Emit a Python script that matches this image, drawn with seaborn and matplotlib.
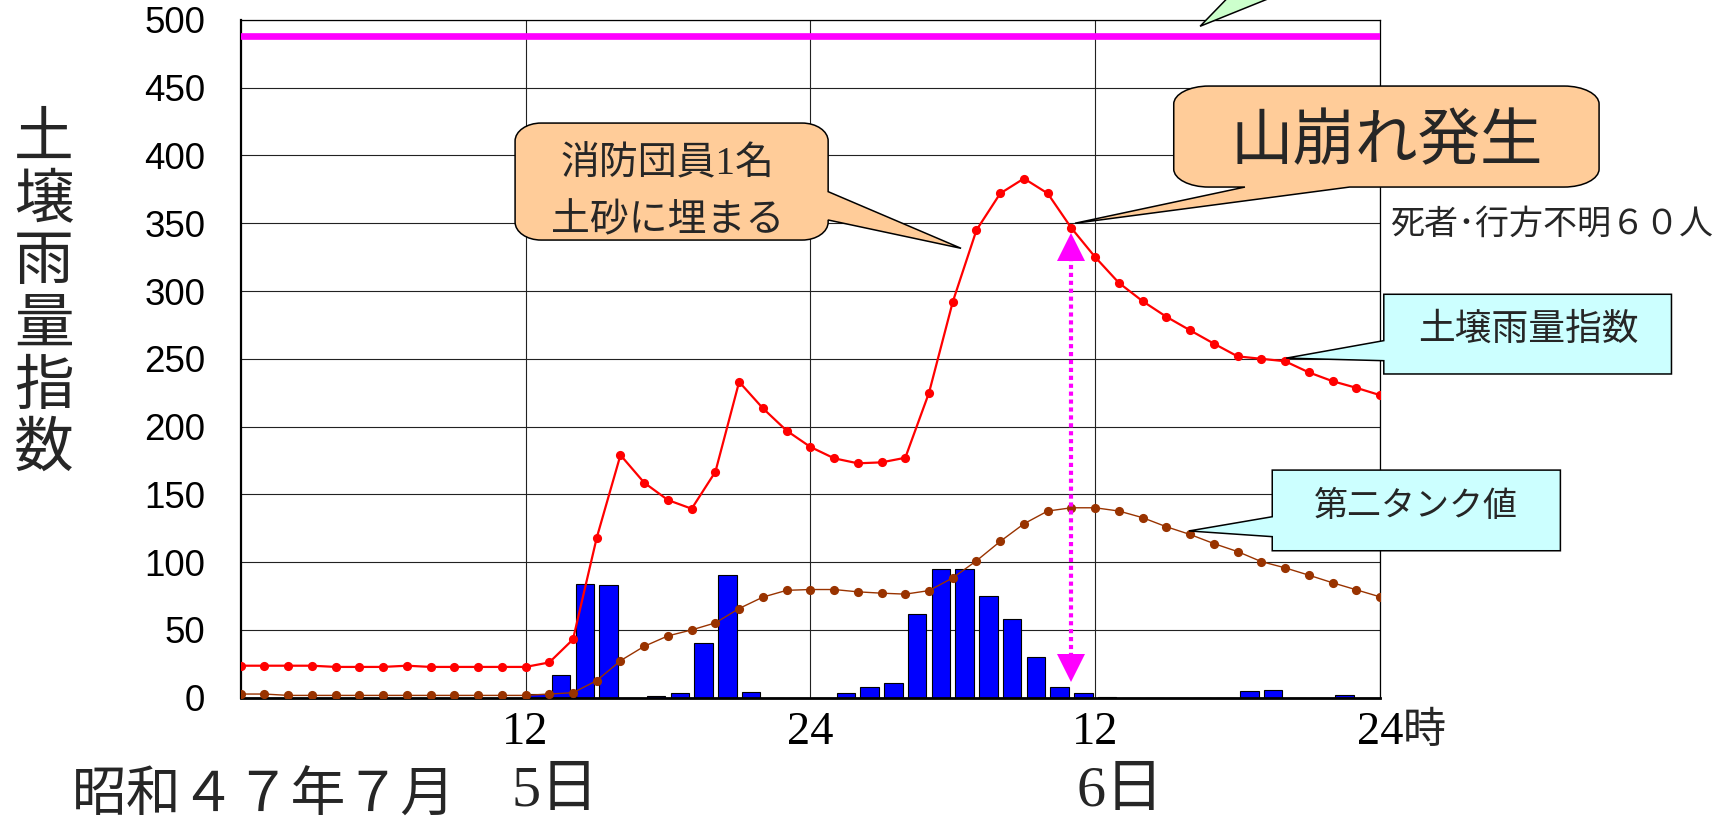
import matplotlib
matplotlib.use("Agg")
import matplotlib.pyplot as plt
from matplotlib.path import Path
from matplotlib.patches import PathPatch, Polygon
from matplotlib.transforms import offset_copy
import seaborn as sns

# ---- data (hours counted from 0:00 on the 5th) ----
hours = list(range(49))
soil_index = [23.6, 23.6, 23.6, 23.6, 22.7, 22.7, 22.7, 23.6, 22.7, 22.7, 22.7, 22.7, 22.7,
              26.0, 43.0, 118.0, 179.0, 158.6, 145.8, 139.4, 166.7, 233.0, 213.5, 197.0,
              185.0, 176.6, 172.9, 173.6, 177.0, 225.0, 292.0, 345.0, 372.0, 383.0, 372.0,
              346.4, 325.0, 306.0, 292.5, 281.0, 271.0, 261.2, 251.8, 250.0, 248.2, 240.0,
              233.5, 228.6, 223.2]
tank2 = [2.7, 2.7, 1.7, 1.7, 1.7, 1.7, 1.7, 1.7, 1.7, 1.7, 1.7, 1.7, 1.7,
         2.7, 3.7, 12.6, 27.3, 37.9, 45.6, 50.0, 55.2, 65.8, 74.2, 79.2,
         79.8, 79.8, 78.1, 77.1, 76.4, 79.0, 88.4, 101.0, 115.3, 128.3, 137.7,
         140.1, 140.1, 137.7, 132.8, 126.1, 120.4, 113.7, 107.8, 100.4, 95.8, 90.4,
         84.8, 79.6, 74.4]
# hourly rainfall, one value per hour interval h..h+1
rain_hours = [h + 0.5 for h in range(48)]
rain = [0, 0, 0, 0, 0, 0, 0, 0, 0, 0, 0, 0,
        2.5, 16.5, 84.0, 83.0, 0, 1.0, 3.5, 40.0, 90.6, 4.3, 0, 0,
        0, 3.2, 7.9, 10.8, 62.0, 95.3, 95.3, 75.0, 58.0, 30.3, 7.9, 3.4,
        0.7, 0, 0, 0, 0, 0, 4.7, 5.5, 0, 0, 1.8, 0]

threshold = 488
slide_hour = 35
xtick_pos = [12, 24, 36, 48]
xtick_labels = ["12", "24", "12", "24"]
ytick_pos = list(range(0, 501, 50))

# ---- figure ----
sns.set_style("white")
plt.rcParams["font.family"] = ["Liberation Sans", "Noto Sans CJK JP"]

W, H, DPI = 1731, 826, 100
fig = plt.figure(figsize=(W / DPI, H / DPI), dpi=DPI)
L, R, T, B = 240.7, 1380.0, 19.9, 697.7
ax = fig.add_axes([L / W, 1 - B / H, (R - L) / W, (B - T) / H])
px_x = (R - L) / 48.0
px_y = (B - T) / 500.0

sns.barplot(x=rain_hours, y=rain, native_scale=True, width=0.78, color="#0000ff",
            saturation=1, edgecolor="black", linewidth=0.8, errorbar=None, ax=ax, zorder=2)
sns.lineplot(x=hours, y=tank2, color="#993300", lw=1.0, marker="o", markersize=6.6,
             mec="#993300", mew=0, ax=ax, zorder=4)
sns.lineplot(x=hours, y=soil_index, color="#ff0000", lw=1.6, marker="o", markersize=6.6,
             mec="#ff0000", mew=0, ax=ax, zorder=4)

ax.axhline(threshold, color="#ff00ff", lw=4.8, zorder=3)

ax.set_xlim(0, 48)
ax.set_ylim(0, 500)
ax.set_xlabel("")
ax.set_ylabel("")
ax.set_yticks(ytick_pos)
ax.set_yticklabels([str(v) for v in ytick_pos], fontfamily="Liberation Sans", fontsize=26.5)
ax.set_xticks(xtick_pos)
ax.set_xticklabels(xtick_labels, fontfamily="Liberation Serif", fontsize=33.5)
ax.tick_params(axis="y", direction="in", length=6, width=1.2, pad=25.5, colors="black")
ax.tick_params(axis="x", length=0, pad=9.8, colors="black")
ax.grid(True, color="#222222", lw=0.8)
ax.set_axisbelow(True)
for side, lw in (("left", 1.6), ("bottom", 2.0), ("top", 0.9), ("right", 0.9)):
    ax.spines[side].set_color("black")
    ax.spines[side].set_linewidth(lw)

# ---- dotted double arrow at the time of the landslide ----
arrow_top, arrow_bot, head = 342.3, 12.0, 19.5
ax.plot([slide_hour, slide_hour], [arrow_bot + 18, arrow_top - 18], color="#ff00ff",
        lw=3.0, ls=(0, (1, 0.9)), zorder=5)
ax.plot(slide_hour, arrow_top, marker="^", ms=head, color="#ff00ff", mew=0, zorder=5,
        transform=offset_copy(ax.transData, fig, y=-head / 2, units="points"))
ax.plot(slide_hour, arrow_bot, marker="v", ms=head, color="#ff00ff", mew=0, zorder=5,
        transform=offset_copy(ax.transData, fig, y=head / 2, units="points"))


# ---- callout shapes ----
def callout_path(x0, x1, y0, y1, r_px=(0, 0), side=None, base=None, tip=None):
    rx, ry = r_px[0] / px_x, r_px[1] / px_y
    k = 0.5523
    V, C = [], []

    def mv(p):
        V.append(p); C.append(Path.MOVETO)

    def ln(p):
        V.append(p); C.append(Path.LINETO)

    def arc(c1, c2, p):
        V.extend([c1, c2, p]); C.extend([Path.CURVE4] * 3)

    mv((x0 + rx, y0))
    if side == "bottom":
        ln((base[0], y0)); ln(tip); ln((base[1], y0))
    ln((x1 - rx, y0))
    arc((x1 - rx + k * rx, y0), (x1, y0 + ry - k * ry), (x1, y0 + ry))
    if side == "right":
        ln((x1, base[0])); ln(tip); ln((x1, base[1]))
    ln((x1, y1 - ry))
    arc((x1, y1 - ry + k * ry), (x1 - rx + k * rx, y1), (x1 - rx, y1))
    ln((x0 + rx, y1))
    arc((x0 + rx - k * rx, y1), (x0, y1 - ry + k * ry), (x0, y1 - ry))
    if side == "left":
        ln((x0, base[1])); ln(tip); ln((x0, base[0]))
    ln((x0, y0 + ry))
    arc((x0, y0 + ry - k * ry), (x0 + rx - k * rx, y0), (x0 + rx, y0))
    V.append((x0 + rx, y0)); C.append(Path.CLOSEPOLY)
    return Path(V, C)


def add_callout(path, face):
    ax.add_patch(PathPatch(path, facecolor=face, edgecolor="black", lw=1.1,
                           clip_on=False, zorder=6))


peach, cyan = "#ffcc99", "#ccffff"

add_callout(callout_path(11.56, 24.75, 337.6, 423.9, (26, 18), "right",
                         (352.4, 373.3), (30.35, 331.5)), peach)
ax.text(18.0, 393.0, "消防団員1名", ha="center", va="center", fontsize=28,
        fontfamily=["Liberation Serif", "Noto Sans CJK JP"], zorder=7, clip_on=False)
ax.text(18.0, 352.4, "土砂に埋まる", ha="center", va="center", fontsize=28,
        fontfamily=["Noto Sans CJK JP"], zorder=7, clip_on=False)

add_callout(callout_path(39.31, 57.23, 376.7, 451.2, (35, 18), "bottom",
                         (42.31, 46.72), (35.15, 350.0)), peach)
ax.text(48.3, 410.0, "山崩れ発生", ha="center", va="center", fontsize=45,
        fontfamily=["Noto Sans CJK JP"], zorder=7, clip_on=False)

add_callout(callout_path(48.16, 60.28, 238.8, 297.6, (0, 0), "left",
                         (248.6, 263.4), (44.05, 250.5)), cyan)
ax.text(54.26, 272.0, "土壌雨量指数", ha="center", va="center", fontsize=26.5,
        fontfamily=["Noto Sans CJK JP"], zorder=7, clip_on=False)

add_callout(callout_path(43.46, 55.6, 108.4, 167.9, (0, 0), "left",
                         (118.8, 133.5), (39.95, 123.0)), cyan)
ax.text(49.52, 141.0, "第二タンク値", ha="center", va="center", fontsize=24.5,
        fontfamily=["Noto Sans CJK JP"], zorder=7, clip_on=False)

# pointer of a callout sitting above the plot
ax.add_patch(Polygon([(40.42, 495.3), (41.9, 522), (44.2, 522)], closed=True,
                     facecolor="#ccffcc", edgecolor="black", lw=1.1, clip_on=False, zorder=6))

# ---- free text ----
fig.text(1389.7 / W, 1 - 224 / H, "死者･行方不明６０人", ha="left", va="center",
         fontsize=24.5, fontfamily=["Noto Sans CJK JP"])
fig.text(1403 / W, 1 - 743.3 / H, "時", ha="left", va="baseline", fontsize=31,
         fontfamily=["Noto Sans CJK JP"])

ylabel = "土壌雨量指数"
for i, ch in enumerate(ylabel):
    fig.text(44.2 / W, 1 - (139.0 + i * 62.0) / H, ch, ha="center", va="center",
             fontsize=43, fontfamily=["Noto Sans CJK JP"])

fig.text(264 / W, 1 - 795.5 / H, "昭和４７年７月", ha="center", va="center",
         fontsize=39.5, fontfamily=["Noto Sans CJK JP"])
fig.text(555 / W, 1 - 792.5 / H, "5日", ha="center", va="center",
         fontsize=42, fontfamily=["Liberation Serif", "Noto Sans CJK JP"])
fig.text(1120 / W, 1 - 792.5 / H, "6日", ha="center", va="center",
         fontsize=42, fontfamily=["Liberation Serif", "Noto Sans CJK JP"])

fig.savefig("out.png", dpi=DPI)
